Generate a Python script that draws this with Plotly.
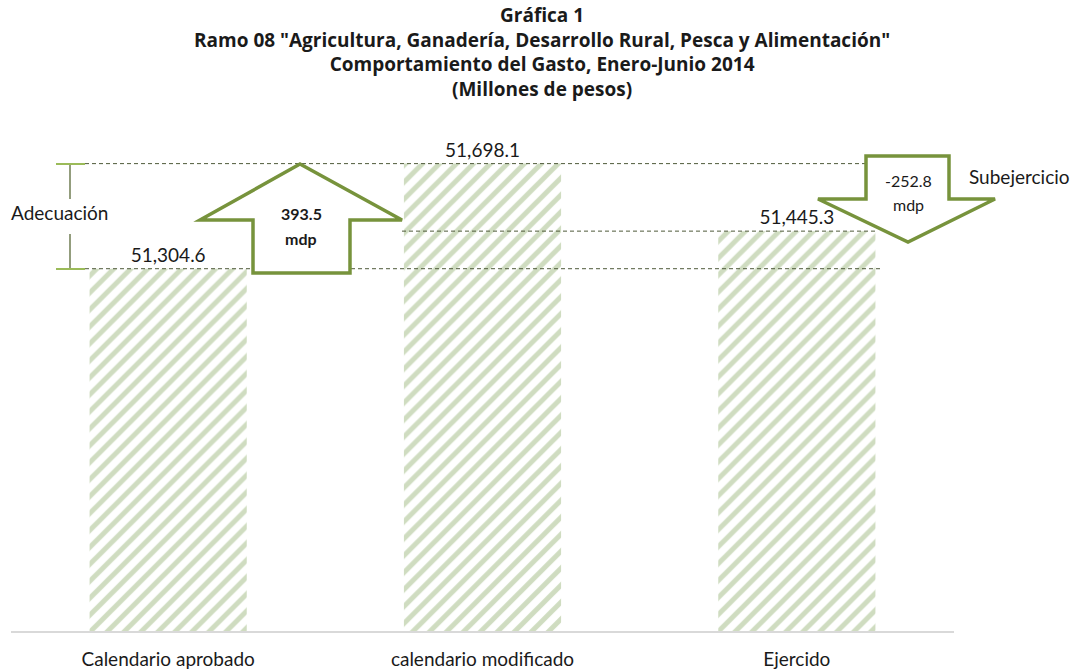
import plotly.graph_objects as go

categories = ["Calendario aprobado", "calendario modificado", "Ejercido"]
values = [51304.6, 51698.1, 51445.3]
value_labels = ["51,304.6", "51,698.1", "51,445.3"]
adecuacion = 393.5
subejercicio = -252.8

title_lines = [
    "Gráfica 1",
    "Ramo 08 \"Agricultura, Ganadería, Desarrollo Rural, Pesca y Alimentación\"",
    "Comportamiento del Gasto, Enero-Junio 2014",
    "(Millones de pesos)",
]

W, H = 1075, 671
L, R, T, B = 11, 121, 83, 40
PW, PH = W - L - R, H - T - B
FONT = "Lato"
ARROW = "#77933c"
TXT = "#1a1a1a"


def px(x):
    return (x - L) / PW


def py(y):
    return (H - B - y) / PH


fig = go.Figure()
fig.add_trace(go.Bar(
    x=categories, y=values,
    text=value_labels, textposition="outside",
    textfont=dict(family=FONT, size=19, color=TXT),
    marker=dict(color="white", line=dict(width=0),
                pattern=dict(shape="/", fgcolor="#9fba82", bgcolor="white",
                             size=12, solidity=0.42)),
    cliponaxis=False, hoverinfo="skip",
))

shapes = []
for y, x0, x1 in [(values[1], 85, 865), (values[2], 402, 878), (values[0], 85, 880)]:
    shapes.append(dict(type="line", xref="paper", yref="y", x0=px(x0), x1=px(x1),
                       y0=y, y1=y, line=dict(color="#4f5a3a", width=1, dash="4px,3px")))


def path(points):
    return "M " + " L ".join(f"{px(a):.5f},{py(b):.5f}" for a, b in points) + " Z"


up = [(300, 164), (402, 220), (350, 220), (350, 273), (253, 273), (253, 220), (200, 220)]
down = [(866, 156), (949, 156), (949, 199), (995, 199), (908, 242), (818, 199), (866, 199)]
for pts in (up, down):
    shapes.append(dict(type="path", xref="paper", yref="paper", path=path(pts),
                       line=dict(color=ARROW, width=3.5), fillcolor="white"))

for y0, y1 in [(164, 199), (234, 269)]:
    shapes.append(dict(type="line", xref="paper", yref="paper", x0=px(70), x1=px(70),
                       y0=py(y0), y1=py(y1), line=dict(color="#6f7d52", width=1.5)))
for y in (164, 269):
    shapes.append(dict(type="line", xref="paper", yref="paper", x0=px(56), x1=px(85),
                       y0=py(y), y1=py(y), line=dict(color="#9bbb59", width=2)))

annotations = [dict(
    text="<br>".join(f"<b>{t}</b>" for t in title_lines),
    xref="paper", yref="paper", x=px(542), y=py(52), showarrow=False,
    xanchor="center", yanchor="middle", align="center",
    font=dict(family="Open Sans", size=19, color=TXT),
)]

extra = [
    dict(text=f"<b>{adecuacion:,.1f}</b>", x=px(301), y=py(214), size=16),
    dict(text="<b>mdp</b>", x=px(301), y=py(238), size=16),
    dict(text=f"{subejercicio:,.1f}", x=px(908), y=py(180), size=16),
    dict(text="mdp", x=px(908), y=py(204), size=16),
    dict(text="Adecuación", x=px(59), y=py(212), size=19),
    dict(text="Subejercicio", x=px(1019), y=py(176), size=19),
]
for a in extra:
    size = a.pop("size")
    a.update(xref="paper", yref="paper", showarrow=False, xanchor="center",
             yanchor="middle", font=dict(family=FONT, size=size, color=TXT))
annotations += extra

fig.update_layout(
    width=W, height=H,
    margin=dict(l=L, r=R, t=T, b=B),
    paper_bgcolor="white", plot_bgcolor="white",
    bargap=0.5, showlegend=False,
    shapes=shapes, annotations=annotations,
    xaxis=dict(showline=True, linecolor="#d9d9d9", linewidth=2, ticks="",
               showgrid=False, ticklabelstandoff=10, automargin=False,
               tickfont=dict(family=FONT, size=19, color=TXT)),
    yaxis=dict(visible=False, range=[49948, 52000], automargin=False),
)

fig.write_html("out.html", config={"displayModeBar": False},
               post_script="document.body.style.margin='0';document.body.style.overflow='hidden';")
